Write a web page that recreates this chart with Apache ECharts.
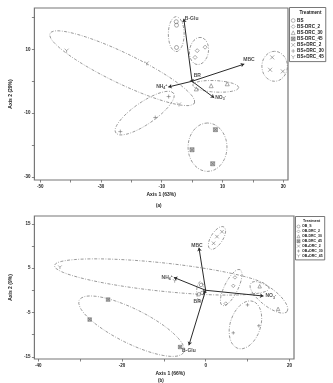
<!DOCTYPE html>
<html>
<head>
<meta charset="utf-8">
<script src="https://cdn.jsdelivr.net/npm/echarts@6/dist/echarts.min.js"></script>
<style>
  html, body { margin: 0; padding: 0; background: #fff; }
  #chart { width: 333px; height: 383px; }
</style>
</head>
<body>
<div id="chart"></div>
<script>
// ---- panel (a) ----
const groupsA = ['BS', 'BS-DRC_2', 'BS-DRC_30', 'BS-DRC_45', 'BS+DRC_2', 'BS+DRC_30', 'BS+DRC_45'];
const pointsA = [
  [[-5.2, 18.7], [-5.1, 17.6], [-5.1, 10.6]],
  [[1.7, 9.6], [4.3, 10.7], [1.0, 7.5]],
  [[1.4, -2.4], [6.3, -1.4], [11.6, -0.8]],
  [[7.7, -15.2], [0.0, -21.5], [6.8, -25.9]],
  [[26.4, 7.5], [25.7, 3.6], [29.9, 3.1]],
  [[-7.7, -4.8], [-12.1, -11.4], [-23.6, -15.8]],
  [[-41.3, 9.6], [-14.9, 5.6], [-4.3, -7.3]]
];
// confidence ellipses: centre x, centre y, semi-major, semi-minor, angle (deg)
const ellipsesA = [
  [-5.2, 14.8, 5.5, 2.6, 90],
  [2.3, 9.5, 4.3, 3.1, 80],
  [7.8, -1.6, 7.6, 1.8, -3],
  [5.1, -20.7, 7.6, 6.4, 90],
  [27.2, 4.7, 4.7, 4.2, 90],
  [-15.6, -10.0, 11.4, 3.5, 33],
  [-23.0, 4.1, 26.2, 4.8, -24.6]
];
const varsA = ['B-Glu', 'MBC', 'NH4+', 'NO3-', 'BR'];
const loadingsA = [[-2.7, 19.6], [17.2, 5.4], [-7.8, -1.8], [7.3, -5.2], [0.4, 0.6]];
const xTicksA = [-50, -40, -30, -20, -10, 0, 10, 20, 30];
const xLabelsA = [-50, -30, -10, 10, 30];
const yTicksA = [20, 10, 0, -10, -20, -30];
const yLabelsA = [10, -10, -30];

// ---- panel (b) ----
const groupsB = ['OB_S', 'OB-DRC_2', 'OB-DRC_30', 'OB-DRC_45', 'OB+DRC_2', 'OB+DRC_30', 'OB+DRC_45'];
const pointsB = [
  [[-1.6, -0.9], [-1.1, 1.2], [-0.8, -0.6]],
  [[7.0, 2.9], [6.6, 1.0], [4.8, -3.0]],
  [[12.9, 0.9], [17.3, -4.2]],
  [[-23.3, -2.1], [-27.7, -6.6], [-6.1, -12.8]],
  [[3.9, 13.2], [2.7, 12.1], [1.9, 10.6]],
  [[10.0, -3.3], [12.7, -8.0], [6.6, -9.6]],
  [[-34.8, 5.2], [-7.4, 2.1], [11.5, -0.9]]
];
const ellipsesB = [
  [-1.25, -0.3, 2.3, 0.9, 90],
  [6.1, 0.6, 4.6, 1.6, 62],
  [15.1, -1.6, 5.4, 2.0, -36],
  [-17.7, -8.1, 13.8, 3.9, -25],
  [2.7, 11.8, 3.0, 1.4, 55],
  [9.5, -7.8, 5.6, 3.6, 70],
  [-10.5, 3.0, 25.8, 3.2, -5.7]
];
const varsB = ['B-Glu', 'MBC', 'NH4+', 'NO3-', 'BR'];
const loadingsB = [[-4.0, -12.4], [-1.6, 9.6], [-7.6, 2.9], [13.8, -1.3], [-0.5, -0.8]];
const xTicksB = [-40, -30, -20, -10, 0, 10, 20];
const xLabelsB = [-40, -20, 0, 20];
const yTicksB = [15, 10, 5, 0, -5, -10, -15];
const yLabelsB = [15, 5, -5, -15];

const FONT = 'Liberation Sans';
const markers = [
  'circle', 'diamond', 'triangle',
  'path://M0,0L10,0L10,10L0,10ZM0,0L10,10M10,0L0,10',
  'path://M0,0L10,10M10,0L0,10',
  'path://M5,0L5,10M0,5L10,5',
  'path://M0,0L5,5L10,0M5,5L5,10'
];
const markerFill = ['rgba(0,0,0,0)', 'rgba(0,0,0,0)', 'rgba(0,0,0,0)', '#aaa', 'rgba(0,0,0,0)', 'rgba(0,0,0,0)', 'rgba(0,0,0,0)'];

function ellipseLine (e) {
  const [cx, cy, a, b, deg] = e
  const t = deg * Math.PI / 180
  const pts = []
  for (let i = 0; i <= 72; i++) {
    const u = i / 72 * 2 * Math.PI
    const x = a * Math.cos(u), y = b * Math.sin(u)
    pts.push([cx + x * Math.cos(t) - y * Math.sin(t), cy + x * Math.sin(t) + y * Math.cos(t)])
  }
  return pts
}

function varLabel (name) {
  if (name === 'NH4+') return 'NH{s|4}{p|+}'
  if (name === 'NO3-') return 'NO{s|3}{p|-}'
  return name
}

const rich = {
  s: { fontSize: 3.5, fontWeight: 'bold', fontFamily: FONT, color: '#222', padding: [3, 0, 0, 0] },
  p: { fontSize: 3.5, fontWeight: 'bold', fontFamily: FONT, color: '#222', padding: [0, 0, 3, 0] }
}

function panelSeries (idx, groups, points, ellipses, vars, loadings, labelPos, mk) {
  const out = []
  groups.forEach((g, i) => {
    out.push({
      name: g,
      type: 'scatter',
      xAxisIndex: idx, yAxisIndex: idx,
      symbol: markers[i],
      symbolSize: mk,
      itemStyle: { color: markerFill[i], borderColor: '#666', borderWidth: 0.7 },
      data: points[i],
      z: 4
    })
  })
  ellipses.forEach(e => {
    out.push({
      type: 'line',
      xAxisIndex: idx, yAxisIndex: idx,
      showSymbol: false,
      silent: true,
      lineStyle: { color: '#777', width: 0.75, type: [3, 1.5, 0.8, 1.5] },
      data: ellipseLine(e),
      z: 3
    })
  })
  out.push({
    type: 'lines',
    coordinateSystem: 'cartesian2d',
    xAxisIndex: idx, yAxisIndex: idx,
    symbol: ['none', 'arrow'],
    symbolSize: 3.5,
    lineStyle: { color: '#2a2a2a', width: 1, opacity: 1 },
    data: loadings.map(p => ({ coords: [[0, 0], p] })),
    z: 5
  })
  out.push({
    type: 'scatter',
    xAxisIndex: idx, yAxisIndex: idx,
    symbolSize: 0,
    silent: true,
    data: loadings.map((p, i) => ({
      value: p,
      name: vars[i],
      label: Object.assign({
        show: true,
        formatter: varLabel(vars[i]),
        fontSize: 5,
        fontWeight: 'bold',
        fontFamily: FONT,
        color: '#222',
        rich: rich
      }, labelPos[i])
    })),
    z: 6
  })
  return out
}

const labelPosA = [
  { position: 'right', distance: 1 },
  { position: [-1, -6.5], align: 'left', verticalAlign: 'top' },
  { position: 'left', distance: 1 },
  { position: 'right', distance: 1 },
  { position: [0.5, -6], align: 'left', verticalAlign: 'top' }
]
const labelPosB = [
  { position: 'bottom', distance: 3 },
  { position: 'top', distance: 0, offset: [-2, 0] },
  { position: 'left', distance: 1 },
  { position: 'right', distance: 2 },
  { position: [-10, 5.5], align: 'left', verticalAlign: 'top' }
]

const tickLine = { color: '#666', width: 0.8 }
const tickFont = { fontSize: 4.5, fontWeight: 'bold', fontFamily: FONT, color: '#222' }

function xAxisOf (idx, min, max, ticks, labels, name, namePad) {
  return {
    type: 'value', gridIndex: idx, min: min, max: max,
    name: name, nameLocation: 'middle', nameGap: 12,
    nameTextStyle: { fontSize: 5, fontWeight: 'bold', fontFamily: FONT, color: '#222', padding: namePad },
    axisLine: { show: false, onZero: false },
    axisTick: { show: true, length: 2.5, customValues: ticks, lineStyle: tickLine },
    axisLabel: Object.assign({ customValues: labels, margin: 4.5 }, tickFont),
    splitLine: { show: false }
  }
}
function yAxisOf (idx, min, max, ticks, labels, name) {
  return {
    type: 'value', gridIndex: idx, min: min, max: max,
    name: name, nameLocation: 'middle', nameGap: 14,
    nameTextStyle: { fontSize: 5, fontWeight: 'bold', fontFamily: FONT, color: '#222' },
    axisLine: { show: false, onZero: false },
    axisTick: { show: true, length: 2.5, customValues: ticks, lineStyle: tickLine },
    axisLabel: Object.assign({ customValues: labels, margin: 4 }, tickFont),
    splitLine: { show: false }
  }
}

function legendOf (names, left, top, size, font, gap, pad) {
  return {
    data: names.map((n, i) => ({
      name: n,
      icon: markers[i],
      itemStyle: { color: markerFill[i], borderColor: '#666', borderWidth: 0.6 }
    })),
    orient: 'vertical',
    left: left, top: top,
    padding: pad,
    itemGap: gap,
    itemWidth: size, itemHeight: size,
    borderColor: '#555', borderWidth: 0.8,
    textStyle: { fontSize: font, fontWeight: 'bold', fontFamily: FONT, color: '#222', lineHeight: font, padding: [0, 0, 0, -3] }
  }
}

const chart = echarts.init(document.getElementById('chart'), null, { renderer: 'canvas' })
chart.setOption({
  animation: false,
  backgroundColor: '#fff',
  title: [
    { text: 'Treatment', left: 299.5, top: 10, padding: 0, textStyle: { fontSize: 4.6, fontWeight: 'bold', fontFamily: FONT, color: '#222' } },
    { text: 'Treatment', left: 303, top: 218.5, padding: 0, textStyle: { fontSize: 3.6, fontWeight: 'bold', fontFamily: FONT, color: '#222' } },
    { text: '(a)', left: 156, top: 203, padding: 0, textStyle: { fontSize: 4.5, fontWeight: 'bold', fontFamily: FONT, color: '#222' } },
    { text: '(b)', left: 158, top: 378, padding: 0, textStyle: { fontSize: 4.5, fontWeight: 'bold', fontFamily: FONT, color: '#222' } }
  ],
  grid: [
    { left: 24, top: 8, width: 264, height: 172, show: true, borderColor: '#777', borderWidth: 1.2, backgroundColor: '#fff' },
    { left: 21, top: 216, width: 273, height: 143, show: true, borderColor: '#777', borderWidth: 1.2, backgroundColor: '#fff' }
  ],
  xAxis: [
    xAxisOf(0, -51.9, 31.6, xTicksA, xLabelsA, 'Axis 1 (63%)', [0, 0, 0, 0]),
    xAxisOf(1, -40.9, 21.1, xTicksB, xLabelsB, 'Axis 1 (66%)', [0, 0, 0, 12])
  ],
  yAxis: [
    yAxisOf(0, -31.0, 23.0, yTicksA, yLabelsA, 'Axis 2 (29%)'),
    yAxisOf(1, -15.5, 16.75, yTicksB, yLabelsB, 'Axis 2 (9%)')
  ],
  legend: [
    legendOf(groupsA, 289.5, 7.5, 3.8, 4.6, 1.1, [10.5, 2, 2, 1.5]),
    legendOf(groupsB, 295.5, 216.5, 3, 3.5, 0.9, [8, 2, 2, 1.2])
  ],
  series: [].concat(
    panelSeries(0, groupsA, pointsA, ellipsesA, varsA, loadingsA, labelPosA, 4),
    panelSeries(1, groupsB, pointsB, ellipsesB, varsB, loadingsB, labelPosB, 3.5)
  )
})
</script>
</body>
</html>
